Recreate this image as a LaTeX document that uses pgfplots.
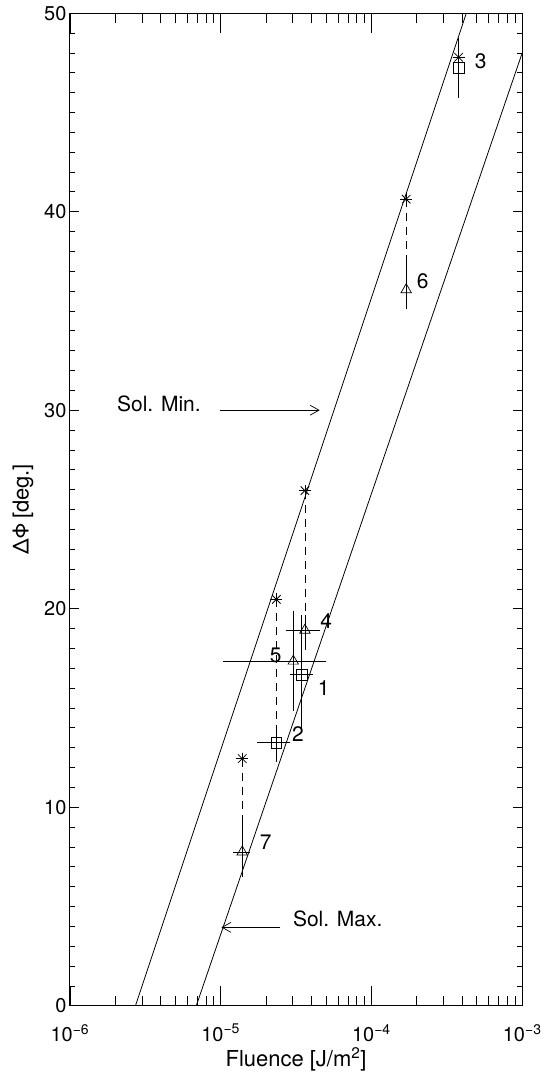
\documentclass[border=0pt]{standalone}
\usepackage{fontspec}
\setmainfont{TeX Gyre Heros}
\usepackage{pgfplots}
\pgfplotsset{compat=1.18}
\usetikzlibrary{arrows.meta}

\begin{document}
\begin{tikzpicture}
% y ticks (short) on their own frame
\begin{axis}[
  scale only axis, width=452.7pt, height=993.5pt,
  xmode=log, xmin=1e-6, xmax=1e-3, ymin=0, ymax=50,
  tick align=inside,
  every tick/.append style={black, line width=0.7pt},
  axis line style={line width=0.9pt},
  tick label style={font=\fontsize{20}{20}\selectfont},
  xtick=\empty,
  ytick={0,10,20,30,40,50},
  yticklabels={0,10,20,30,40,50},
  minor ytick={1,...,49},
  major tick length=9pt, minor tick length=5pt,
]
\end{axis}

% data, x ticks (long)
\begin{axis}[
  scale only axis, width=452.7pt, height=993.5pt,
  xmode=log, xmin=1e-6, xmax=1e-3, ymin=0, ymax=50,
  tick align=inside,
  every tick/.append style={black, line width=0.7pt},
  axis line style={line width=0.9pt},
  tick label style={font=\fontsize{20}{20}\selectfont},
  ytick=\empty,
  xtick={1e-6,1e-5,1e-4,1e-3},
  xticklabels={10\textsuperscript{−6},10\textsuperscript{−5},10\textsuperscript{−4},10\textsuperscript{−3}},
  minor xtick={2e-6,3e-6,4e-6,5e-6,6e-6,7e-6,8e-6,9e-6,
               2e-5,3e-5,4e-5,5e-5,6e-5,7e-5,8e-5,9e-5,
               2e-4,3e-4,4e-4,5e-4,6e-4,7e-4,8e-4,9e-4},
  major tick length=20pt, minor tick length=10pt,
  xticklabel style={yshift=-15pt},
  xlabel={Fluence [J/m\textsuperscript{2}]},
  ylabel={ΔΦ\,[deg.]},
  label style={font=\fontsize{22}{22}\selectfont},
  xlabel style={at={(axis description cs:0.5,-0.0607)}, anchor=base},
  ylabel style={at={(axis description cs:-0.1038,0.5)}, anchor=center},
]

% Sol. Min. and Sol. Max. lines
\addplot[black, line width=0.8pt] coordinates {(2.72e-6,0) (4.26e-4,50)};
\addplot[black, line width=0.8pt] coordinates {(6.89e-6,0) (1e-3,48)};

% dashed links from stars
\addplot[black, line width=0.8pt, dash pattern=on 8pt off 6pt] coordinates {(1.70e-4,40.63) (1.70e-4,37.66)};
\addplot[black, line width=0.8pt, dash pattern=on 8pt off 6pt] coordinates {(3.62e-5,25.95) (3.62e-5,19.66)};
\addplot[black, line width=0.8pt, dash pattern=on 8pt off 6pt] coordinates {(2.34e-5,20.47) (2.34e-5,14.10)};
\addplot[black, line width=0.8pt, dash pattern=on 8pt off 6pt] coordinates {(1.39e-5,12.45) (1.39e-5,9.40)};

% vertical error bars
\addplot[black, line width=0.8pt] coordinates {(3.79e-4,48.74) (3.79e-4,45.75)};
\addplot[black, line width=0.8pt] coordinates {(1.70e-4,37.66) (1.70e-4,35.10)};
\addplot[black, line width=0.8pt] coordinates {(3.62e-5,19.66) (3.62e-5,17.93)};
\addplot[black, line width=0.8pt] coordinates {(3.03e-5,19.90) (3.03e-5,14.85)};
\addplot[black, line width=0.8pt] coordinates {(3.43e-5,19.66) (3.43e-5,14.01)};
\addplot[black, line width=0.8pt] coordinates {(2.34e-5,14.10) (2.34e-5,12.30)};
\addplot[black, line width=0.8pt] coordinates {(1.39e-5,9.40) (1.39e-5,6.51)};

% horizontal error bars
\addplot[black, line width=0.8pt] coordinates {(2.70e-5,18.92) (4.58e-5,18.92)};
\addplot[black, line width=0.8pt] coordinates {(1.04e-5,17.36) (5.02e-5,17.36)};
\addplot[black, line width=0.8pt] coordinates {(2.87e-5,16.69) (4.09e-5,16.69)};
\addplot[black, line width=0.8pt] coordinates {(1.74e-5,13.26) (2.87e-5,13.26)};
\addplot[black, line width=0.8pt] coordinates {(1.21e-5,7.75) (1.57e-5,7.75)};

% stars
\addplot[only marks, mark=+, mark size=6pt, mark options={line width=0.8pt}] coordinates {
  (3.79e-4,47.78) (1.70e-4,40.63) (3.62e-5,25.95) (2.34e-5,20.47) (1.39e-5,12.45)};
\addplot[only marks, mark=x, mark size=6pt, mark options={line width=0.8pt}] coordinates {
  (3.79e-4,47.78) (1.70e-4,40.63) (3.62e-5,25.95) (2.34e-5,20.47) (1.39e-5,12.45)};

% squares
\addplot[only marks, mark=square, mark size=5.5pt, mark options={line width=0.7pt}] coordinates {
  (3.79e-4,47.23) (3.43e-5,16.69) (2.34e-5,13.26)};

% triangles
\addplot[only marks, mark=triangle, mark size=6pt, mark options={line width=0.7pt}] coordinates {
  (1.70e-4,36.07) (3.62e-5,18.92) (3.03e-5,17.36) (1.39e-5,7.75)};

% event numbers and notes
\begin{scope}[font=\fontsize{21}{21}\selectfont]
\node at (axis cs:5.3e-4,47.6) {3};
\node at (axis cs:2.19e-4,36.49) {6};
\node at (axis cs:5.02e-5,19.38) {4};
\node at (axis cs:2.32e-5,17.65) {5};
\node at (axis cs:4.82e-5,16.02) {1};
\node at (axis cs:3.26e-5,13.67) {2};
\node at (axis cs:1.99e-5,8.22) {7};
\node[anchor=west, inner sep=0pt] at (axis cs:2.05e-6,30.33) {Sol. Min.};
\node[anchor=west, inner sep=0pt] at (axis cs:3.01e-5,4.36) {Sol. Max.};
\end{scope}
\draw[line width=0.7pt, -{Straight Barb[length=9pt,width=10pt]}] (axis cs:9.87e-6,30) -- (axis cs:4.54e-5,30);
\draw[line width=0.7pt, -{Straight Barb[length=9pt,width=10pt]}] (axis cs:2.49e-5,3.95) -- (axis cs:1.01e-5,3.95);

\end{axis}
\path (current axis.south west) ++(-70pt,-67.3pt) (current axis.north east) ++(20.3pt,13.2pt);
\end{tikzpicture}
\end{document}
